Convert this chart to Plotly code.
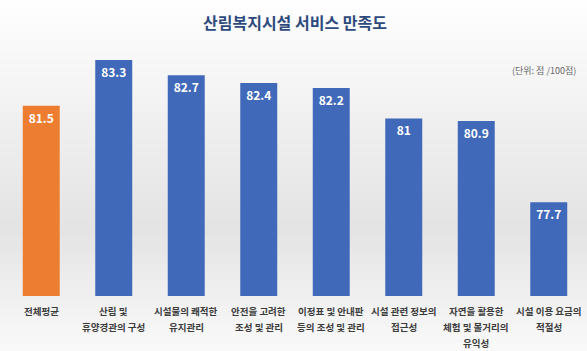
import plotly.graph_objects as go

categories = ["전체평균", "산림 및<br>휴양경관의 구성", "시설물의 쾌적한<br>유지관리", "안전을 고려한<br>조성 및 관리",
              "이정표 및 안내판<br>등의 조성 및 관리", "시설 관련 정보의<br>접근성", "자연을 활용한<br>체험 및 볼거리의<br>유익성",
              "시설 이용 요금의<br>적절성"]
values = [81.5, 83.3, 82.7, 82.4, 82.2, 81, 80.9, 77.7]
colors = ["#ED7D31"] + ["#4169B9"] * 7
title = "산림복지시설 서비스 만족도"
unit = "(단위: 점 /100점)"

FONT = "Noto Sans CJK KR"

fig = go.Figure(go.Bar(
    x=categories, y=values, marker=dict(color=colors, line=dict(width=0)),
    text=["<b>" + str(v) + "</b>" for v in values], textposition="inside", insidetextanchor="end",
    textfont=dict(color="white", size=12, family=FONT), textangle=0, width=0.51,
    cliponaxis=False,
))

# background gradient (white -> light grey -> white)
shapes = []
n = 40
for i in range(n):
    y0 = i / n
    y1 = (i + 1) / n
    t = (y0 + y1) / 2
    if t < 0.35:
        g = 250 - (t / 0.35) * 22
    else:
        g = 228 + ((t - 0.35) / 0.65) * 27
    g = int(max(min(g, 255), 0))
    shapes.append(dict(type="rect", xref="paper", yref="paper", x0=-0.02, x1=1.02,
                       y0=-0.2 + y0 * 1.27, y1=-0.2 + y1 * 1.27 + 0.002,
                       fillcolor=f"rgb({g},{g},{g})", line=dict(width=0), layer="below"))

annotations = [
    dict(text="<b>" + title + "</b>", xref="paper", yref="paper", x=0.5, y=0.982,
         xanchor="center", yanchor="middle", showarrow=False,
         font=dict(size=16, color="#2E4A7D", family=FONT)),
    dict(text=unit, xref="paper", yref="paper", x=0.988, y=0.81,
         xanchor="right", yanchor="middle", showarrow=False,
         font=dict(size=9, color="#666666", family=FONT)),
]
line_y = [-0.054, -0.111, -0.168]
for cat in categories:
    for j, part in enumerate(cat.split("<br>")):
        annotations.append(dict(text="<b>" + part + "</b>", xref="x", yref="paper", x=cat, y=line_y[j],
                                xanchor="center", yanchor="middle", showarrow=False,
                                font=dict(size=9.5, color="#3c3c3c", family=FONT)))

fig.update_layout(
    width=587, height=351,
    margin=dict(l=5, r=2, t=17, b=55),
    paper_bgcolor="white", plot_bgcolor="rgba(0,0,0,0)",
    shapes=shapes,
    showlegend=False,
    xaxis=dict(showgrid=False, showline=False, ticks="", showticklabels=False),
    yaxis=dict(range=[74, 85], visible=False),
    annotations=annotations,
    bargap=0.49,
)

fig.write_html("out.html")
